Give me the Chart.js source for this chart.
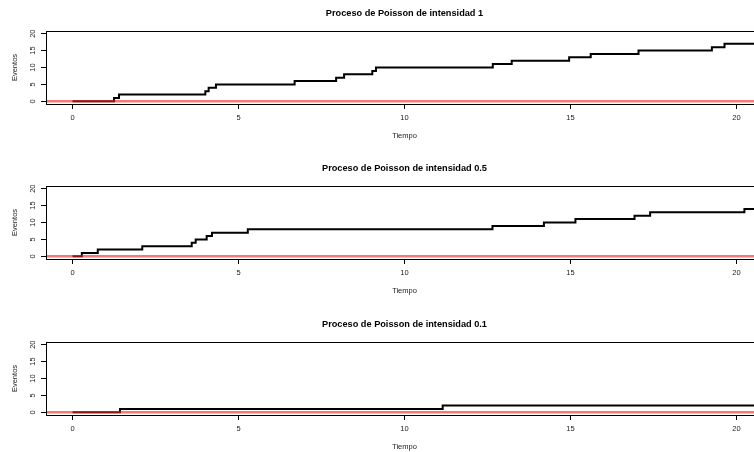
<!DOCTYPE html>
<html>
<head>
<meta charset="utf-8">
<script src="https://cdn.jsdelivr.net/npm/chart.js@4.4.1/dist/chart.umd.min.js"></script>
<style>
    html, body { margin: 0; padding: 0; width: 754px; height: 452px; overflow: hidden; background: #fff; }
    canvas { position: absolute; left: 0; }
</style>
</head>
<body>
<canvas id="panel1" width="770" height="155" style="top:0px"></canvas>
<canvas id="panel2" width="770" height="155" style="top:155px"></canvas>
<canvas id="panel3" width="770" height="155" style="top:311px"></canvas>
<script>
// tiempos de llegada (el ultimo punto solo prolonga el escalon)
const tiempos1 = [0, 1.25, 1.4, 4.0, 4.1, 4.32, 6.69, 7.94, 8.18, 9.03, 9.14, 12.66, 13.23, 14.96, 15.61, 17.05, 19.26, 19.64, 21.5];
const eventos1 = [0, 1, 2, 3, 4, 5, 6, 7, 8, 9, 10, 11, 12, 13, 14, 15, 16, 17, 17];

const tiempos2 = [0, 0.28, 0.76, 2.1, 3.59, 3.71, 4.04, 4.2, 5.28, 12.65, 14.2, 15.15, 16.93, 17.4, 20.24, 21.5];
const eventos2 = [0, 1, 2, 3, 4, 5, 6, 7, 8, 9, 10, 11, 12, 13, 14, 14];

const tiempos3 = [0, 1.43, 11.15, 21.5];
const eventos3 = [0, 1, 2, 2];

const xTicks = [0, 5, 10, 15, 20];
const yTicks = [0, 5, 10, 15, 20];

const FUENTE = '"Liberation Sans", Arial, Helvetica, sans-serif';

// caja alrededor del area de dibujo y titulo centrado sobre ella
const cajaPlugin = {
    id: 'caja',
    afterDatasetsDraw(chart, args, opts) {
        const { ctx, chartArea: a } = chart;
        ctx.save();
        ctx.strokeStyle = '#000';
        ctx.lineWidth = 1;
        ctx.strokeRect(Math.round(a.left) + 0.5, Math.round(a.top) + 0.5,
            Math.round(a.right - a.left), Math.round(a.bottom - a.top));
        ctx.restore();
    },
    afterDraw(chart, args, opts) {
        const { ctx, chartArea: a } = chart;
        ctx.save();
        ctx.fillStyle = '#000';
        ctx.font = 'bold 9.2px ' + FUENTE;
        ctx.textAlign = 'center';
        ctx.textBaseline = 'middle';
        ctx.fillText(opts.texto, (a.left + a.right) / 2, 13.5);
        ctx.restore();
    }
};

function crearPanel(id, titulo, tiempos, eventos) {
    const puntos = tiempos.map((t, i) => ({ x: t, y: eventos[i] }));
    return new Chart(document.getElementById(id), {
        type: 'line',
        data: {
            datasets: [
                {
                    label: 'h = 0',
                    data: [{ x: -1, y: 0 }, { x: 22, y: 0 }],
                    borderColor: 'rgba(240, 30, 30, 0.6)',
                    borderWidth: 2.5,
                    pointRadius: 0,
                    order: 1
                },
                {
                    label: 'Eventos',
                    data: puntos,
                    stepped: true,
                    borderColor: '#000',
                    borderWidth: 2,
                    pointRadius: 0,
                    fill: false,
                    order: 2
                }
            ]
        },
        options: {
            responsive: false,
            animation: false,
            events: [],
            layout: { padding: { top: 31, right: 7, left: 0, bottom: 0 } },
            plugins: {
                legend: { display: false },
                tooltip: { enabled: false },
                caja: { texto: titulo }
            },
            scales: {
                x: {
                    type: 'linear',
                    min: -0.8,
                    max: 20.8,
                    afterBuildTicks: s => { s.ticks = xTicks.map(v => ({ value: v })); },
                    afterFit: s => { s.height = 51; },
                    border: { display: false },
                    grid: { drawOnChartArea: false, drawTicks: true, tickLength: 5, color: '#000', lineWidth: 1 },
                    ticks: { color: '#222', padding: 4.5, maxRotation: 0, font: { family: FUENTE, size: 7.5 } },
                    title: { display: true, text: 'Tiempo', color: '#222', padding: { top: 0, bottom: 14.5 }, font: { family: FUENTE, size: 7.5 } }
                },
                y: {
                    type: 'linear',
                    min: -0.8,
                    max: 20.8,
                    afterBuildTicks: s => { s.ticks = yTicks.map(v => ({ value: v })); },
                    afterFit: s => { s.width = 46; },
                    border: { display: false },
                    grid: { drawOnChartArea: false, drawTicks: true, tickLength: 5, color: '#000', lineWidth: 1 },
                    ticks: { color: '#222', padding: 4, minRotation: 90, maxRotation: 90, crossAlign: 'center', font: { family: FUENTE, size: 7.5 } },
                    title: { display: true, text: 'Eventos', color: '#222', padding: { top: 10.5, bottom: 0 }, font: { family: FUENTE, size: 7.5 } }
                }
            }
        },
        plugins: [cajaPlugin]
    });
}

crearPanel('panel1', 'Proceso de Poisson de intensidad 1', tiempos1, eventos1);
crearPanel('panel2', 'Proceso de Poisson de intensidad 0.5', tiempos2, eventos2);
crearPanel('panel3', 'Proceso de Poisson de intensidad 0.1', tiempos3, eventos3);
</script>
</body>
</html>
